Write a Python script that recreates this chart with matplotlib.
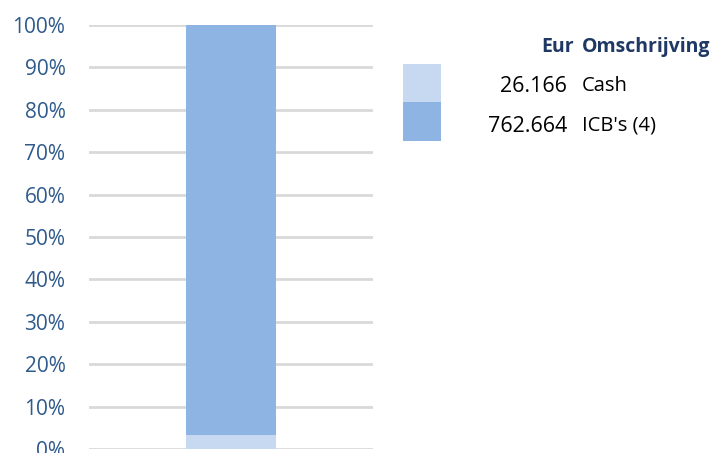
import matplotlib
matplotlib.use("Agg")
import matplotlib.pyplot as plt
from matplotlib.patches import Rectangle

categories = ["Cash", "ICB's (4)"]
values = [26.166, 762.664]
value_labels = ["26.166", "762.664"]
colors = ["#C6D9F1", "#8EB4E3"]
yticks = [0, 0.1, 0.2, 0.3, 0.4, 0.5, 0.6, 0.7, 0.8, 0.9, 1.0]
ytick_labels = ["0%", "10%", "20%", "30%", "40%", "50%", "60%", "70%", "80%", "90%", "100%"]

plt.rcParams['font.family'] = ['Open Sans', 'DejaVu Sans']

W, H = 715, 453
fig = plt.figure(figsize=(W / 100, H / 100), dpi=100)
ax = fig.add_axes([89 / W, 4 / H, (373 - 89) / W, (449 - 25) / H])

total = sum(values)
bottom = 0.0
for v, c in zip(values, colors):
    frac = v / total
    ax.bar(0, frac, width=0.32, bottom=bottom, color=c, zorder=3)
    bottom += frac

ax.set_xlim(-0.5, 0.5)
ax.set_ylim(0, 1)
ax.set_yticks(yticks)
ax.set_yticklabels(ytick_labels, fontsize=15, color="#2E5A8C")
ax.set_xticks([])
for s in ax.spines.values():
    s.set_visible(False)
ax.tick_params(axis='y', length=0, pad=17)
ax.yaxis.grid(True, color="#D9D9D9", linewidth=2, zorder=0)
ax.set_axisbelow(True)
ax.patch.set_alpha(0)
for lbl in ax.get_yticklabels():
    lbl.set_clip_on(False)

# legend table
def fx(x):
    return x / W
def fy(y):
    return 1 - y / H

header_color = "#1F3864"
fig.text(fx(574), fy(47), "Eur", ha="right", va="center", fontsize=14, fontweight="bold", color=header_color)
fig.text(fx(582), fy(47), "Omschrijving", ha="left", va="center", fontsize=14, fontweight="bold", color=header_color)

rows_y = [86, 126]
sw_top = [64, 102]
sw_bot = [102, 141]
for i in range(len(categories)):
    fig.patches.append(Rectangle((fx(403), fy(sw_bot[i])), fx(441) - fx(403), fy(sw_top[i]) - fy(sw_bot[i]),
                                 transform=fig.transFigure, facecolor=colors[i], edgecolor="none"))
    fig.text(fx(567), fy(rows_y[i]), value_labels[i], ha="right", va="center", fontsize=15.5, color="#000000")
    fig.text(fx(582), fy(rows_y[i]), categories[i], ha="left", va="center", fontsize=14.5, color="#000000")

fig.savefig("out.png", dpi=100)
